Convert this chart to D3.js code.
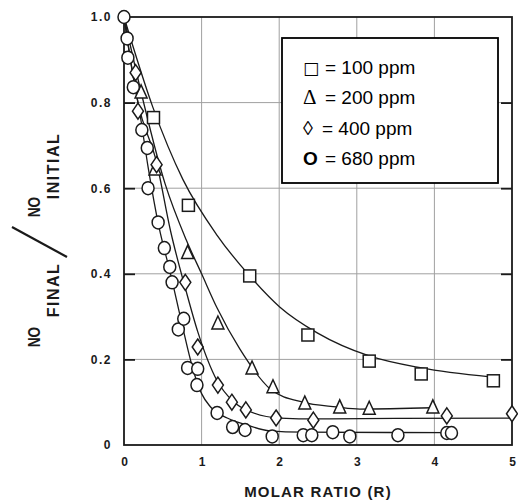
<!DOCTYPE html>
<html><head><meta charset="utf-8">
<script src="https://cdn.jsdelivr.net/npm/d3@7"></script>
<style>
body{margin:0;background:#fff;}
svg{display:block;font-family:"Liberation Sans",Arial,sans-serif;}
</style></head>
<body><svg id="c" width="518" height="502"></svg>
<script>
// ---- data ----
const xTicks = [0,1,2,3,4,5];
const yTicks = [0,0.2,0.4,0.6,0.8,1.0];
const yTickLabels = ["0","0.2","0.4","0.6","0.8","1.0"];
const legendSymbols = ["□","Δ","◊","O"];
const legendLabels = ["100 ppm","200 ppm","400 ppm","680 ppm"];

const sq100 = [[0.38,0.765],[0.83,0.56],[1.62,0.395],[2.37,0.257],[3.16,0.196],[3.83,0.166],[4.76,0.15]];
const tri200 = [[0.22,0.825],[0.40,0.645],[0.82,0.45],[1.21,0.285],[1.65,0.18],[1.92,0.136],[2.33,0.098],[2.78,0.089],[3.16,0.086],[3.98,0.089]];
const dia400 = [[0.15,0.87],[0.18,0.78],[0.42,0.655],[0.79,0.38],[0.95,0.229],[1.21,0.14],[1.39,0.10],[1.57,0.082],[1.96,0.063],[2.44,0.058],[4.16,0.068],[5.0,0.073]];
const cir680 = [[0,1.0],[0.04,0.95],[0.05,0.905],[0.12,0.836],[0.23,0.736],[0.30,0.694],[0.31,0.60],[0.44,0.52],[0.52,0.46],[0.59,0.416],[0.62,0.38],[0.70,0.27],[0.77,0.295],[0.82,0.18],[0.95,0.178],[0.94,0.14],[1.20,0.075],[1.40,0.042],[1.56,0.035],[1.91,0.02],[2.31,0.023],[2.42,0.023],[2.69,0.03],[2.91,0.02],[3.53,0.023],[4.16,0.028],[4.22,0.028]];

// hand-drawn fit curves
const fit100 = [[0,1],[0.37,0.79],[0.76,0.62],[1.2,0.49],[1.62,0.395],[2.01,0.322],[2.49,0.262],[3.16,0.208],[3.83,0.18],[4.72,0.159]];
const fit200 = [[0,1],[0.2,0.84],[0.53,0.61],[0.8,0.48],[1.0,0.40],[1.2,0.32],[1.49,0.225],[1.89,0.13],[2.3,0.1],[2.74,0.089],[3.04,0.084],[3.98,0.087]];
const fit400 = [[0,1],[0.18,0.8],[0.42,0.66],[0.6,0.5],[0.8,0.36],[0.95,0.265],[1.2,0.15],[1.4,0.103],[1.6,0.08],[2.01,0.063],[2.5,0.061],[3.5,0.062],[5.0,0.063]];
const fit680 = [[0,1],[0.1,0.88],[0.2,0.78],[0.31,0.65],[0.45,0.51],[0.6,0.4],[0.75,0.28],[0.9,0.17],[1.0,0.12],[1.11,0.09],[1.33,0.063],[1.58,0.047],[1.88,0.033],[2.3,0.03],[4.2,0.029]];

// ---- drawing ----
const svg = d3.select("#c");
const x = d3.scaleLinear().domain([0,5]).range([124,512]);
const y = d3.scaleLinear().domain([0,1]).range([445,17]);
const ink = "#1a1a1a";

// grid
const g = svg.append("g");
g.selectAll("line.vg").data([1,2,3,4]).enter().append("line")
  .attr("x1",d=>x(d)).attr("x2",d=>x(d)).attr("y1",y(0)).attr("y2",y(1))
  .attr("stroke","#a0a0a0").attr("stroke-width",1);
g.selectAll("line.hg").data([0.2,0.4,0.6,0.8]).enter().append("line")
  .attr("x1",x(0)).attr("x2",x(5)).attr("y1",d=>y(d)).attr("y2",d=>y(d))
  .attr("stroke","#a0a0a0").attr("stroke-width",1);

// frame
svg.append("rect").attr("x",x(0)).attr("y",y(1)).attr("width",x(5)-x(0)).attr("height",y(0)-y(1))
  .attr("fill","none").attr("stroke",ink).attr("stroke-width",1.8);

// inward ticks on left and right
const yAxisL = d3.axisRight(y).tickValues([0.2,0.4,0.6,0.8]).tickSize(11).tickFormat("");
svg.append("g").attr("transform",`translate(${x(0)},0)`).call(yAxisL)
  .call(s=>{s.select(".domain").remove(); s.selectAll("line").attr("stroke",ink).attr("stroke-width",1.8);});
const yAxisR = d3.axisLeft(y).tickValues([0.2,0.4,0.6,0.8]).tickSize(11).tickFormat("");
svg.append("g").attr("transform",`translate(${x(5)},0)`).call(yAxisR)
  .call(s=>{s.select(".domain").remove(); s.selectAll("line").attr("stroke",ink).attr("stroke-width",1.8);});

// tick labels
const yAx = d3.axisLeft(y).tickValues(yTicks).tickSize(0).tickPadding(12).tickFormat((d,i)=>yTickLabels[i]);
svg.append("g").attr("transform",`translate(${x(0)},0)`).call(yAx)
  .call(s=>{s.select(".domain").remove(); s.selectAll("text").attr("font-size",12).attr("font-weight","bold").attr("fill",ink).attr("font-family","Liberation Sans, Arial, sans-serif").attr("letter-spacing",1.5);});
const xAx = d3.axisBottom(x).tickValues(xTicks).tickSize(0).tickPadding(12).tickFormat(d3.format("d"));
svg.append("g").attr("transform",`translate(0,${y(0)})`).call(xAx)
  .call(s=>{s.select(".domain").remove(); s.selectAll("text").attr("font-size",12).attr("font-weight","bold").attr("fill",ink).attr("font-family","Liberation Sans, Arial, sans-serif");});

// axis titles
svg.append("text").attr("x",318).attr("y",497).attr("text-anchor","middle")
  .attr("font-size",15).attr("font-weight","bold").attr("letter-spacing",1.2).attr("fill",ink)
  .text("MOLAR RATIO (R)");
const yl = svg.append("g").attr("fill",ink).attr("font-weight","bold");
yl.append("text").attr("transform","translate(40,337) rotate(-90) scale(0.8,1)").attr("text-anchor","middle").attr("font-size",17).text("NO");
yl.append("text").attr("transform","translate(59,290) rotate(-90)").attr("text-anchor","middle").attr("font-size",16).attr("letter-spacing",1.5).text("FINAL");
yl.append("text").attr("transform","translate(40,207) rotate(-90) scale(0.8,1)").attr("text-anchor","middle").attr("font-size",17).text("NO");
yl.append("text").attr("transform","translate(59,166) rotate(-90)").attr("text-anchor","middle").attr("font-size",16).attr("letter-spacing",1.5).text("INITIAL");
svg.append("line").attr("x1",12).attr("y1",227).attr("x2",67).attr("y2",257).attr("stroke",ink).attr("stroke-width",2.2);

// fit curves
const line = d3.line().x(d=>x(d[0])).y(d=>y(d[1])).curve(d3.curveMonotoneX);
[fit100,fit200,fit400,fit680].forEach(f=>{
  svg.append("path").attr("d",line(f)).attr("fill","none").attr("stroke",ink).attr("stroke-width",1.3);
});

// markers
const mk = svg.append("g").attr("fill","#fff").attr("stroke",ink).attr("stroke-width",1.5);
mk.selectAll("rect.s").data(sq100).enter().append("rect")
  .attr("x",d=>x(d[0])-6).attr("y",d=>y(d[1])-6).attr("width",12).attr("height",12);
mk.selectAll("path.t").data(tri200).enter().append("path")
  .attr("d",d=>{const cx=x(d[0]),cy=y(d[1]);return `M${cx},${cy-7}L${cx+6},${cy+6}L${cx-6},${cy+6}Z`;});
mk.selectAll("path.d").data(dia400).enter().append("path")
  .attr("d",d=>{const cx=x(d[0]),cy=y(d[1]);return `M${cx},${cy-8}L${cx+5.5},${cy}L${cx},${cy+8}L${cx-5.5},${cy}Z`;});
mk.selectAll("ellipse.c").data(cir680).enter().append("ellipse")
  .attr("cx",d=>x(d[0])).attr("cy",d=>y(d[1])).attr("rx",6).attr("ry",6.5);

// legend
const lg = svg.append("g");
lg.append("rect").attr("x",282).attr("y",38).attr("width",216).attr("height",145)
  .attr("fill","#fff").attr("stroke","#000").attr("stroke-width",1.8);
const symFonts = ["DejaVu Sans","Liberation Serif","Liberation Sans","Liberation Sans"];
const symSizes = [17,21,20,19];
const symWeights = ["normal","normal","normal","bold"];
const baselines = [74,104,135,165];
legendLabels.forEach((lab,i)=>{
  lg.append("text").attr("x",303).attr("y",baselines[i]).attr("fill","#000")
    .attr("font-family",symFonts[i]).attr("font-size",symSizes[i]).attr("font-weight",symWeights[i])
    .text(legendSymbols[i]);
  lg.append("text").attr("x",i===2?322:325).attr("y",baselines[i]).attr("font-size",19).attr("fill","#000")
    .text("= "+lab);
});
</script></body></html>
